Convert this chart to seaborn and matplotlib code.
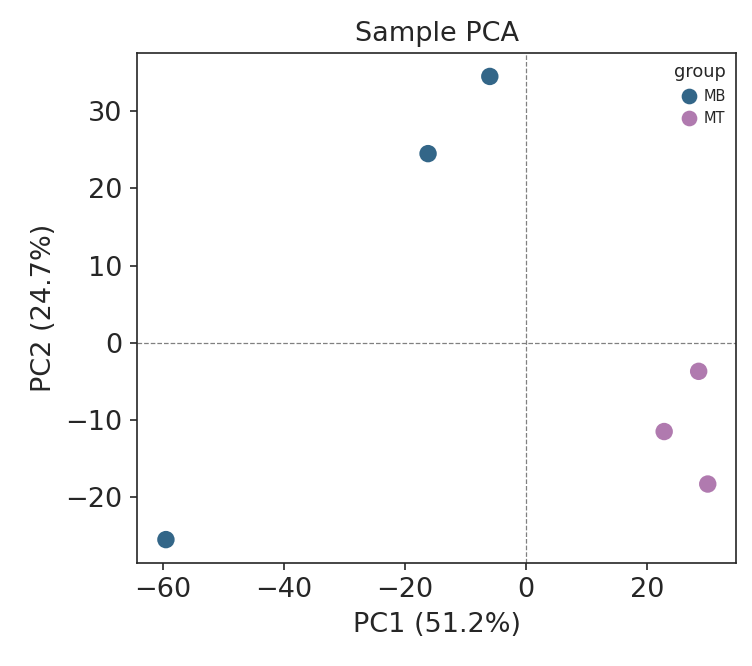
import matplotlib
matplotlib.use("Agg")
import matplotlib.pyplot as plt
import seaborn as sns
import pandas as pd

samples = ["MB1", "MB2", "MB3", "MT1", "MT2", "MT3"]
groups = ["MB", "MB", "MB", "MT", "MT", "MT"]
pc1 = [-6.0, -16.2, -59.5, 28.5, 22.8, 30.0]
pc2 = [34.5, 24.5, -25.5, -3.7, -11.5, -18.3]
palette = {"MB": "#336688", "MT": "#b07aaf"}

df = pd.DataFrame({"sample": samples, "group": groups, "PC1": pc1, "PC2": pc2})

sns.set_style("ticks")
fig, ax = plt.subplots(figsize=(752 / 150, 666 / 150), dpi=150)
sns.scatterplot(data=df, x="PC1", y="PC2", hue="group", palette=palette,
                s=70, edgecolor="none", ax=ax)
ax.axhline(0, color="gray", ls="--", lw=0.6)
ax.axvline(0, color="gray", ls="--", lw=0.6)
ax.set_xlim(-64.3, 34.7)
ax.set_ylim(-28.5, 37.5)
ax.set_xticks([-60, -40, -20, 0, 20])
ax.set_yticks([-20, -10, 0, 10, 20, 30])
ax.tick_params(labelsize=13)
ax.set_xlabel("PC1 (51.2%)", fontsize=13)
ax.set_ylabel("PC2 (24.7%)", fontsize=13)
ax.set_title("Sample PCA", fontsize=13)
leg = ax.legend(title="group", frameon=False, fontsize=7, title_fontsize=8.5,
                loc="upper right", handletextpad=0.0, borderaxespad=0.3,
                markerscale=0.9)
plt.subplots_adjust(left=0.182, right=0.979, top=0.92, bottom=0.155)
fig.savefig("out.png", dpi=150)
